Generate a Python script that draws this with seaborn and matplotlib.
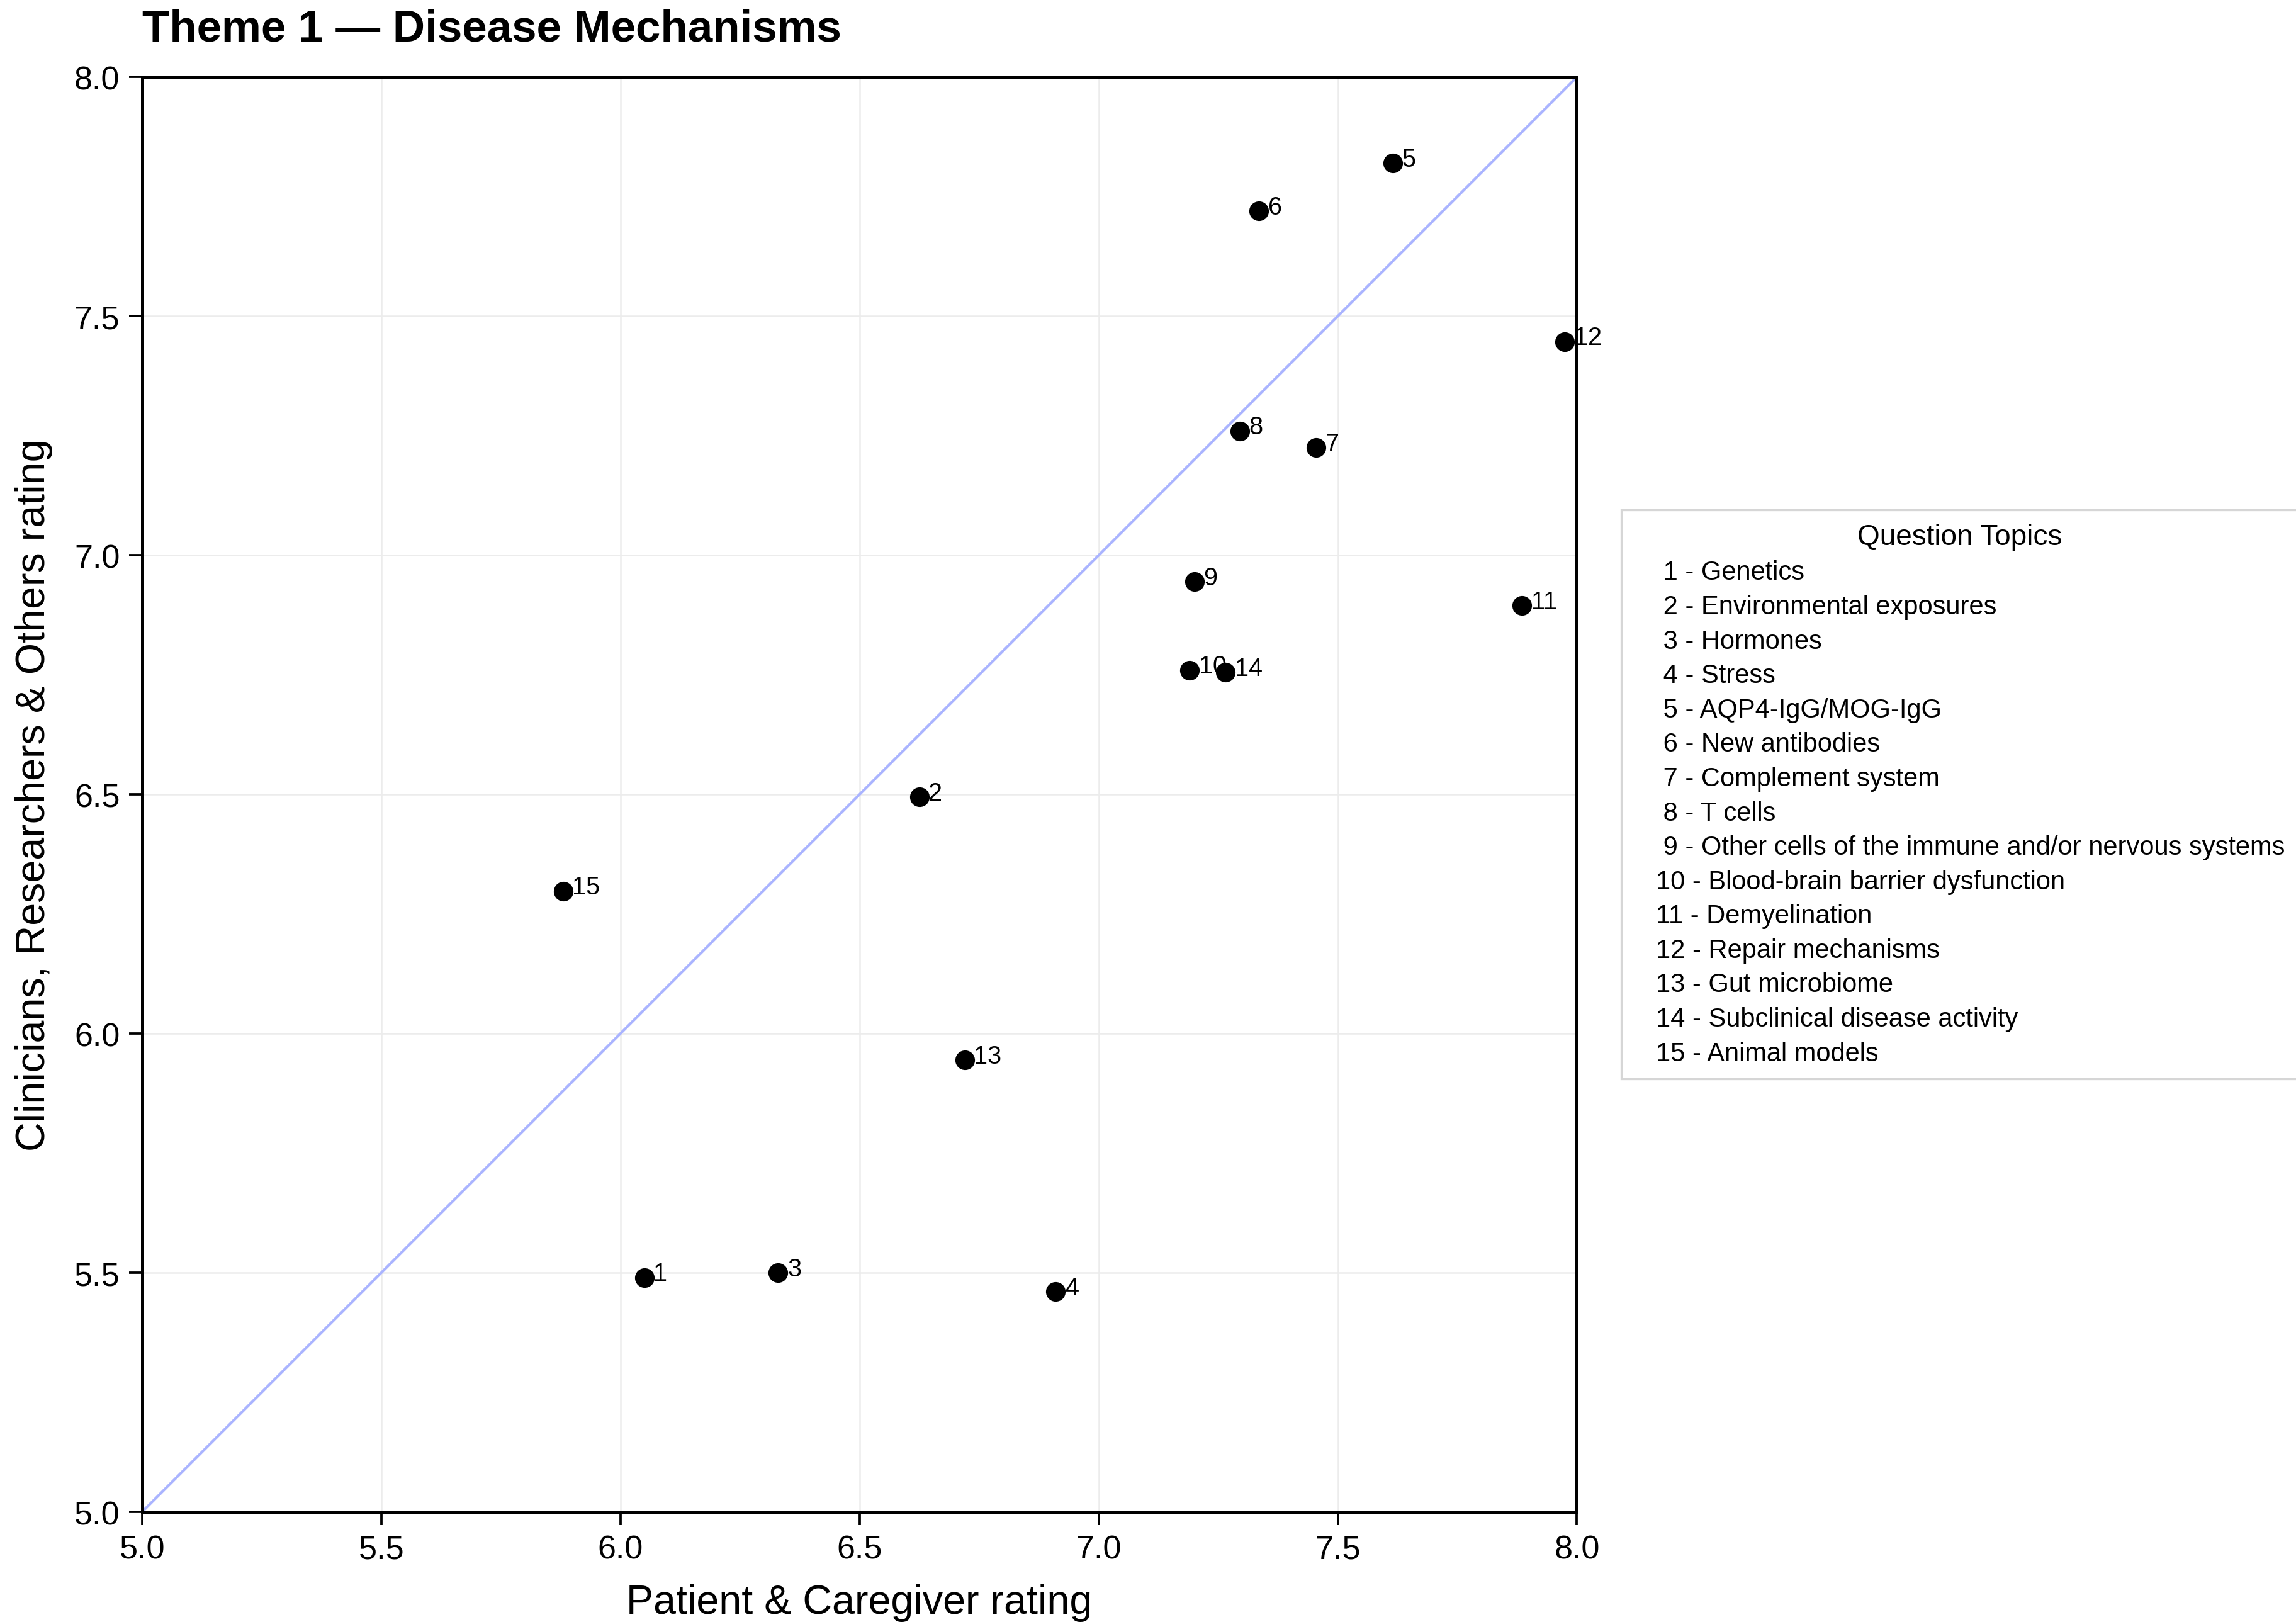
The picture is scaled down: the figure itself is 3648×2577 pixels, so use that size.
import matplotlib
matplotlib.use("Agg")
import matplotlib.pyplot as plt
import seaborn as sns
import pandas as pd
from matplotlib.lines import Line2D

# ratings
topic_ids = list(range(1, 16))
topic_names = [
    "Genetics", "Environmental exposures", "Hormones", "Stress",
    "AQP4-IgG/MOG-IgG", "New antibodies", "Complement system", "T cells",
    "Other cells of the immune and/or nervous systems",
    "Blood-brain barrier dysfunction", "Demyelination", "Repair mechanisms",
    "Gut microbiome", "Subclinical disease activity", "Animal models",
]
patient_rating = [6.05, 6.625, 6.33, 6.91, 7.615, 7.335, 7.455, 7.295,
                  7.20, 7.19, 7.885, 7.975, 6.72, 7.265, 5.88]
clinician_rating = [5.49, 6.495, 5.50, 5.46, 7.82, 7.72, 7.225, 7.26,
                    6.945, 6.76, 6.895, 7.447, 5.945, 6.755, 6.298]
axis_limits = [5.0, 8.0]

df = pd.DataFrame({"id": topic_ids, "topic": topic_names,
                   "patient": patient_rating, "clinician": clinician_rating})

sns.set_theme(style="whitegrid")
plt.rcParams['font.family'] = ['Liberation Sans', 'DejaVu Sans']
plt.rcParams.update({
    "text.color": "black",
    "axes.labelcolor": "black",
    "axes.edgecolor": "black",
    "axes.linewidth": 1.2,
    "grid.color": "#ececec",
    "grid.linewidth": 0.6,
    "xtick.bottom": True,
    "ytick.left": True,
    "xtick.color": "black",
    "ytick.color": "black",
    "xtick.major.size": 5,
    "ytick.major.size": 5,
    "xtick.major.width": 0.9,
    "ytick.major.width": 0.9,
})

fig = plt.figure(figsize=(12.16, 8.5933), dpi=300)
ax = fig.add_axes([0.0619, 0.0669, 0.6249, 0.8862])

# diagonal reference line (equal ratings)
ax.plot(axis_limits, axis_limits, color="#aab4ff", linewidth=1.0, zorder=1)

sns.scatterplot(data=df, x="patient", y="clinician", color="black",
                edgecolor="black", s=48, ax=ax, zorder=3, legend=False)

for _, row in df.iterrows():
    ax.annotate(str(row["id"]), (row["patient"], row["clinician"]),
                xytext=(3.5, 1.5), textcoords="offset points",
                fontsize=9.5, va="center", ha="left", color="black")

ax.set_xlim(axis_limits)
ax.set_ylim(axis_limits)
ax.set_aspect("equal", adjustable="box")
ax.tick_params(labelsize=12.5)
ax.set_xlabel("Patient & Caregiver rating", fontsize=15.5, labelpad=7)
ax.set_ylabel("Clinicians, Researchers & Others rating", fontsize=15.5, labelpad=8)
ax.set_title("Theme 1 \u2014 Disease Mechanisms", fontsize=17,
             fontweight="bold", loc="left", pad=14)

handles = [Line2D([], [], linestyle="none", marker=None) for _ in topic_ids]
labels = [f"{' ' if i < 10 else ''}{i} - {n}" for i, n in zip(topic_ids, topic_names)]
leg = ax.legend(handles, labels, title="Question Topics", loc="center left",
                bbox_to_anchor=(1.022, 0.5), fontsize=10, title_fontsize=11,
                handlelength=0, handletextpad=0.8, labelspacing=0.35,
                frameon=True, fancybox=False, borderpad=0.5)
leg.get_frame().set_edgecolor("#cccccc")
leg.get_frame().set_linewidth(0.8)

fig.savefig("out.png", dpi=300)
